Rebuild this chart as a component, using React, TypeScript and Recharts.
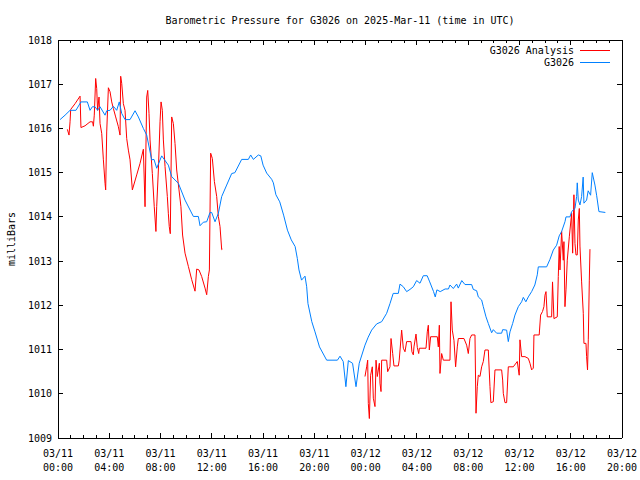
import React from 'react';
import { LineChart, Line, XAxis, YAxis } from 'recharts';

// hours since 2025-03-11 00:00 UTC
const majorHours = [0, 4, 8, 12, 16, 20, 24, 28, 32, 36, 40, 44];
const minorHours = [
  0, 1, 2, 3, 4, 5, 6, 7, 8, 9, 10, 11, 12, 13, 14, 15, 16, 17, 18, 19, 20, 21, 22,
  23, 24, 25, 26, 27, 28, 29, 30, 31, 32, 33, 34, 35, 36, 37, 38, 39, 40, 41, 42, 43, 44,
];
const tickDates = ['03/11', '03/11', '03/11', '03/11', '03/11', '03/11', '03/12', '03/12', '03/12', '03/12', '03/12', '03/12'];
const tickTimes = ['00:00', '04:00', '08:00', '12:00', '16:00', '20:00', '00:00', '04:00', '08:00', '12:00', '16:00', '20:00'];
const pressureTicks = [1009, 1010, 1011, 1012, 1013, 1014, 1015, 1016, 1017, 1018];

// G3026 station observations
const stationHours = [
  0.16, 0.55, 0.94, 1.4, 1.79, 2.29, 2.5, 2.68, 2.89, 3.09, 3.28, 3.67, 3.8, 4.06, 4.32, 4.58, 4.78, 4.97,
  5.23, 5.62, 6.01, 6.27, 6.66, 6.92, 7.31, 7.49, 7.7, 8.09, 8.61, 8.87, 9.39, 9.91, 10.56, 10.95, 11.08,
  11.34, 11.6, 11.86, 11.99, 12.25, 12.51, 12.77, 13.16, 13.55, 13.8, 14.33, 14.85, 15.03, 15.24, 15.63,
  15.82, 16.0, 16.28, 16.67, 16.8, 17.0, 17.3, 17.6, 17.9, 18.2, 18.5, 18.67, 18.8, 19.0, 19.27, 19.4, 19.5,
  19.8, 20.05, 20.4, 20.96, 21.8, 22.0, 22.25, 22.46, 22.65, 22.98, 23.25, 23.5, 23.95, 24.2, 24.47,
  24.86, 25.25, 25.64, 25.9, 26.15, 26.55, 26.68, 26.94, 27.2, 27.46, 27.72, 27.98, 28.24, 28.5, 28.8,
  29.0, 29.3, 29.43, 29.56, 29.82, 30.2, 30.46, 30.58, 30.84, 31.1, 31.23, 31.5, 31.75, 32.27, 32.4,
  32.66, 32.79, 33.05, 33.18, 33.39, 33.57, 33.83, 33.96, 34.22, 34.61, 34.69, 35.0, 35.13, 35.26,
  35.47, 35.65, 35.91, 36.17, 36.3, 36.5, 36.69, 36.95, 37.2, 37.39, 37.47, 38.12, 38.38, 38.64, 38.9,
  39.1, 39.29, 39.55, 39.63, 39.94, 40.07, 40.33, 40.46, 40.51, 40.59, 40.72, 40.85, 40.97, 41.03,
  41.24, 41.36, 41.55, 41.68, 41.89, 42.02, 42.2, 42.7,
];
const stationValues = [
  1016.2, 1016.3, 1016.41, 1016.41, 1016.6, 1016.6, 1016.41, 1016.49, 1016.49, 1016.41, 1016.49, 1016.3,
  1016.4, 1016.41, 1016.5, 1016.41, 1016.6, 1016.34, 1016.2, 1016.2, 1016.4, 1016.26, 1016.0, 1015.85,
  1015.29, 1015.3, 1015.1, 1015.38, 1015.17, 1014.91, 1014.76, 1014.38, 1014.01, 1014.01, 1013.8,
  1013.88, 1013.89, 1014.1, 1014.1, 1013.89, 1014.08, 1014.46, 1014.72, 1014.98, 1015.0, 1015.3, 1015.3,
  1015.4, 1015.3, 1015.4, 1015.38, 1015.17, 1014.99, 1014.85, 1014.77, 1014.5, 1014.34, 1014.04, 1013.7,
  1013.48, 1013.33, 1013.06, 1012.8, 1012.57, 1012.66, 1012.42, 1012.04, 1011.63, 1011.4, 1011.06,
  1010.76, 1010.76, 1010.85, 1010.73, 1010.16, 1010.75, 1010.69, 1010.16, 1010.69, 1011.1, 1011.28,
  1011.44, 1011.58, 1011.63, 1011.82, 1012.04, 1012.27, 1012.27, 1012.48, 1012.42, 1012.31, 1012.36,
  1012.42, 1012.56, 1012.5, 1012.67, 1012.67, 1012.53, 1012.31, 1012.19, 1012.35, 1012.31, 1012.37,
  1012.37, 1012.46, 1012.38, 1012.48, 1012.39, 1012.56, 1012.47, 1012.47, 1012.36, 1012.33, 1012.19,
  1012.12, 1011.97, 1011.74, 1011.59, 1011.38, 1011.45, 1011.37, 1011.37, 1011.45, 1011.44, 1011.18,
  1011.4, 1011.59, 1011.78, 1011.97, 1012.08, 1012.18, 1012.08, 1012.19, 1012.31, 1012.46, 1012.69,
  1012.87, 1012.87, 1013.04, 1013.25, 1013.36, 1013.57, 1013.67, 1013.89, 1014.0, 1014.0, 1014.12,
  1014.19, 1014.46, 1014.77, 1014.38, 1014.27, 1014.46, 1014.9, 1014.31, 1014.38, 1014.59, 1014.49,
  1015.0, 1014.72, 1014.49, 1014.12, 1014.1,
];

// G3026 analysis (no analysis between ~12:50 and ~23:55, hence the null)
const analysisHours = [
  0.73, 0.86, 0.94, 0.99, 1.33, 1.72, 1.79, 2.11, 2.5, 2.7, 2.76, 2.83, 2.94, 3.02, 3.09, 3.2, 3.28, 3.41,
  3.54, 3.67, 3.72, 3.8, 3.93, 4.06, 4.19, 4.32, 4.5, 4.71, 4.84, 4.89, 4.97, 5.1, 5.23, 5.36, 5.49, 5.62,
  5.8, 6.14, 6.4, 6.66, 6.79, 6.92, 7.0, 7.1, 7.18, 7.36, 7.51, 7.64, 7.7, 7.83, 7.96, 8.04, 8.14, 8.22,
  8.35, 8.53, 8.61, 8.68, 8.76, 8.87, 9.0, 9.13, 9.26, 9.44, 9.59, 9.72, 9.91, 10.17, 10.43, 10.69, 10.82,
  11.0, 11.21, 11.47, 11.6, 11.73, 11.81, 11.91, 12.04, 12.2, 12.38, 12.51, 12.64, 12.77, 12.82,
  18.0,
  23.95, 24.08, 24.16, 24.21, 24.29, 24.39, 24.52, 24.6, 24.73, 24.81, 24.91, 25.07, 25.12, 25.2, 25.25,
  25.64, 25.72, 25.9, 25.98, 26.11, 26.21, 26.55, 26.62, 26.81, 26.94, 27.07, 27.2, 27.54, 27.61, 27.72,
  27.77, 27.93, 28.03, 28.14, 28.19, 28.71, 28.81, 28.89, 28.97, 29.07, 29.59, 29.67, 29.75, 29.8, 29.93,
  30.06, 30.58, 30.66, 30.76, 30.89, 31.02, 31.15, 31.23, 31.67, 31.88, 32.01, 32.14, 32.27, 32.53,
  32.61, 32.71, 32.79, 32.92, 33.05, 33.18, 33.31, 33.57, 33.7, 33.77, 33.96, 34.09, 34.61, 34.69, 34.74,
  34.87, 35.0, 35.13, 35.52, 35.83, 35.98, 36.04, 36.17, 36.43, 36.69, 36.82, 36.95, 37.08, 37.13, 37.54,
  37.65, 37.8, 37.91, 37.99, 38.07, 38.17, 38.51, 38.58, 38.69, 38.95, 39.03, 39.1, 39.16, 39.29, 39.42,
  39.47, 39.55, 39.63, 39.73, 39.89, 40.07, 40.15, 40.25, 40.33, 40.41, 40.51, 40.59, 40.67, 40.72,
  40.85, 40.98, 41.03, 41.19, 41.24, 41.31, 41.37, 41.45, 41.5,
];
const analysisValues = [
  1015.98, 1015.85, 1016.15, 1016.43, 1016.56, 1016.73, 1016.02, 1016.06, 1016.15, 1016.15, 1016.05,
  1016.3, 1017.13, 1016.9, 1016.41, 1016.71, 1016.11, 1015.89, 1015.29, 1014.76, 1014.61, 1015.92,
  1016.92, 1016.83, 1016.6, 1016.45, 1016.26, 1016.04, 1015.85, 1017.18, 1017.02, 1016.56, 1016.41,
  1015.77, 1015.51, 1015.29, 1014.61, 1014.95, 1015.21, 1015.53, 1014.23, 1016.71, 1016.86, 1016.34,
  1015.74, 1014.98, 1014.23, 1013.67, 1014.23, 1015.06, 1016.15, 1016.6, 1016.41, 1015.74, 1015.14,
  1014.46, 1014.07, 1013.78, 1013.62, 1016.26, 1016.11, 1015.66, 1015.06, 1014.61, 1014.23, 1013.59,
  1013.18, 1012.88, 1012.58, 1012.32, 1012.82, 1012.8, 1012.65, 1012.39, 1012.24, 1012.65, 1012.8,
  1015.44, 1015.32, 1014.8, 1014.46, 1014.01, 1013.78, 1013.26, 1013.27,
  null,
  1010.39, 1010.61, 1010.76, 1009.78, 1009.44, 1010.42, 1010.61, 1009.9, 1009.71, 1010.76, 1010.39,
  1010.69, 1010.24, 1010.05, 1010.76, 1010.76, 1010.5, 1010.61, 1011.25, 1010.91, 1010.63, 1010.63,
  1010.76, 1011.44, 1011.03, 1010.95, 1011.18, 1011.18, 1010.95, 1010.88, 1011.06, 1011.35, 1011.05,
  1010.91, 1011.03, 1011.03, 1011.4, 1011.55, 1010.99, 1011.29, 1011.29, 1011.06, 1011.55, 1010.46,
  1010.91, 1010.76, 1010.76, 1012.08, 1011.44, 1011.21, 1010.61, 1011.06, 1011.25, 1011.25, 1011.1,
  1010.91, 1011.25, 1011.33, 1011.33, 1009.56, 1010.16, 1010.42, 1010.39, 1010.61, 1010.73, 1010.99,
  1010.99, 1010.16, 1009.8, 1009.82, 1010.54, 1010.54, 1010.31, 1010.01, 1009.8, 1009.8, 1010.61,
  1010.61, 1010.73, 1010.42, 1011.22, 1010.84, 1010.84, 1010.8, 1010.69, 1010.54, 1010.58, 1011.33,
  1011.33, 1011.78, 1011.86, 1011.97, 1012.23, 1012.31, 1011.74, 1011.74, 1012.53, 1011.7, 1011.74,
  1012.65, 1013.33, 1012.8, 1013.67, 1013.02, 1013.44, 1011.97, 1012.35, 1013.02, 1013.55, 1014.08,
  1013.18, 1014.5, 1013.4, 1013.14, 1013.14, 1013.93, 1014.19, 1013.34, 1012.53, 1011.82, 1011.14,
  1011.14, 1010.84, 1010.54, 1011.22, 1012.57, 1013.27,
];

const stationData = stationHours.map((h, i) => ({ h, v: stationValues[i] }));
const analysisData = analysisHours.map((h, i) => ({ h, v: analysisValues[i] }));

const FONT = '"DejaVu Sans Mono", monospace';
const RED = '#ff0000';
const BLUE = '#0080ff';
const crisp = { stroke: '#000', shapeRendering: 'crispEdges' as const };

// gnuplot style: inward ticks, longer on the 4-hour marks
const tickLen = (h: number) => (majorHours.includes(h) ? 5 : 3);

const BottomTick = (props: any) => {
  const { x, y, payload } = props;
  const i = majorHours.indexOf(payload.value);
  return (
    <g>
      <line x1={x} x2={x} y1={y} y2={y - tickLen(payload.value)} {...crisp} />
      {i >= 0 && (
        <text x={x} y={y} textAnchor="middle" fontFamily={FONT} fontSize={10} fill="#000">
          <tspan x={x} dy={19}>{tickDates[i]}</tspan>
          <tspan x={x} dy={14}>{tickTimes[i]}</tspan>
        </text>
      )}
    </g>
  );
};

const TopTick = (props: any) => {
  const { x, y, payload } = props;
  return <line x1={x} x2={x} y1={y} y2={y + tickLen(payload.value)} {...crisp} />;
};

const RightTick = (props: any) => {
  const { x, y } = props;
  return <line x1={x} x2={x - 5} y1={y} y2={y} {...crisp} />;
};

const App: React.FC = () => {
  return (
    <div style={{ position: 'absolute', left: 0, top: 0, width: 640, height: 480, background: '#fff' }}>
      <LineChart
        width={640}
        height={480}
        margin={{ top: 39, right: 17, bottom: 0, left: 0 }}
      >
        <XAxis
          xAxisId="x"
          type="number"
          dataKey="h"
          domain={[0, 44]}
          allowDataOverflow
          ticks={minorHours}
          interval={0}
          height={42}
          tickSize={0}
          tickMargin={0}
          axisLine={crisp}
          tickLine={false}
          tick={<BottomTick />}
        />
        <XAxis
          xAxisId="xTop"
          orientation="top"
          type="number"
          dataKey="h"
          domain={[0, 44]}
          allowDataOverflow
          ticks={minorHours}
          interval={0}
          height={1}
          tickSize={0}
          tickMargin={0}
          axisLine={crisp}
          tickLine={false}
          tick={<TopTick />}
        />
        <YAxis
          yAxisId="y"
          type="number"
          domain={[1009, 1018]}
          allowDataOverflow
          ticks={pressureTicks}
          interval={0}
          width={58}
          tickSize={-5}
          tickMargin={11}
          axisLine={crisp}
          tickLine={crisp}
          tick={{ fontFamily: FONT, fontSize: 10, fill: '#000' }}
        />
        <YAxis
          yAxisId="yRight"
          orientation="right"
          type="number"
          domain={[1009, 1018]}
          allowDataOverflow
          ticks={pressureTicks}
          interval={0}
          width={1}
          tickSize={0}
          tickMargin={0}
          axisLine={crisp}
          tickLine={false}
          tick={<RightTick />}
        />
        {/* keeps the top and right frame axes bound to a series */}
        <Line
          xAxisId="xTop"
          yAxisId="yRight"
          data={stationData}
          dataKey="v"
          stroke="none"
          dot={false}
          activeDot={false}
          legendType="none"
          isAnimationActive={false}
        />
        <Line
          xAxisId="x"
          yAxisId="y"
          data={analysisData}
          dataKey="v"
          type="linear"
          stroke={RED}
          strokeWidth={1}
          dot={false}
          connectNulls={false}
          isAnimationActive={false}
        />
        <Line
          xAxisId="x"
          yAxisId="y"
          data={stationData}
          dataKey="v"
          type="linear"
          stroke={BLUE}
          strokeWidth={1}
          dot={false}
          isAnimationActive={false}
        />
        <text x={340} y={24} textAnchor="middle" fontFamily={FONT} fontSize={10} fill="#000">
          Barometric Pressure for G3026 on 2025-Mar-11 (time in UTC)
        </text>
        <text
          x={15}
          y={239}
          transform="rotate(-90 15 239)"
          textAnchor="middle"
          fontFamily={FONT}
          fontSize={10}
          fill="#000"
        >
          milliBars
        </text>
        <g fontFamily={FONT} fontSize={10} fill="#000">
          <text x={574} y={54} textAnchor="end">G3026 Analysis</text>
          <line x1={580} x2={610} y1={50.5} y2={50.5} stroke={RED} />
          <text x={574} y={66} textAnchor="end">G3026</text>
          <line x1={580} x2={610} y1={62.5} y2={62.5} stroke={BLUE} />
        </g>
      </LineChart>
    </div>
  );
};

export default App;
